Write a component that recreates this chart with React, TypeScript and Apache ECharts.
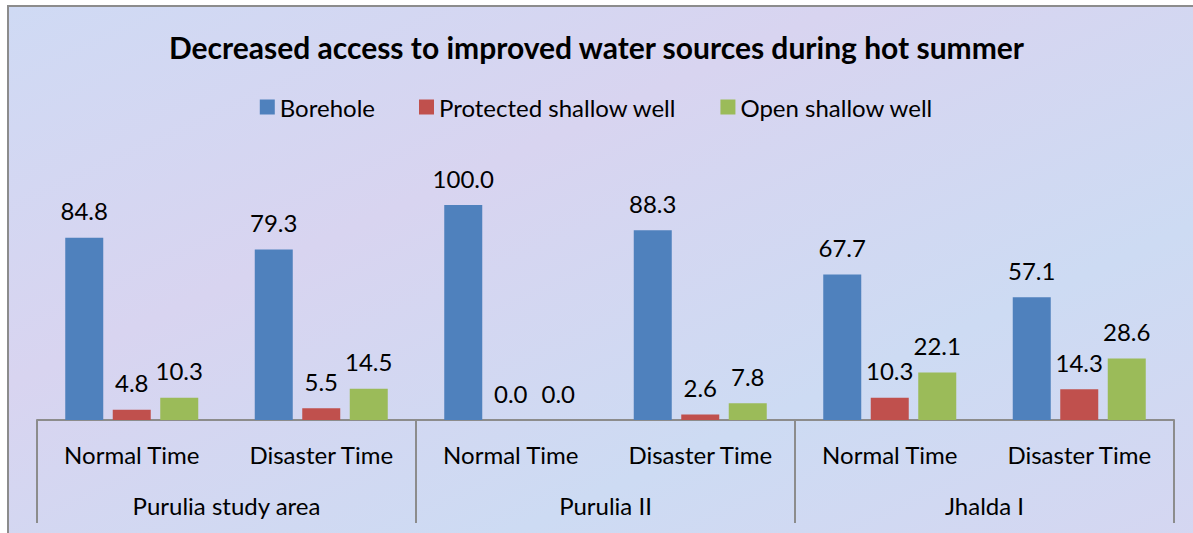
import React, { useEffect, useRef } from "react";
import * as echarts from "echarts";

const periods = ["Normal Time", "Disaster Time", "Normal Time", "Disaster Time", "Normal Time", "Disaster Time"];
const areas = ["Purulia study area", "Purulia II", "Jhalda I"];
const borehole = [84.8, 79.3, 100.0, 88.3, 67.7, 57.1];
const protectedWell = [4.8, 5.5, 0.0, 2.6, 10.3, 14.3];
const openWell = [10.3, 14.5, 0.0, 7.8, 22.1, 28.6];
const seriesNames = ["Borehole", "Protected shallow well", "Open shallow well"];
const colors = ["#4f81bd", "#c0504d", "#9bbb59"];

const FONT = "Lato";

export default function App() {
  const ref = useRef<HTMLDivElement>(null);
  useEffect(() => {
    if (!ref.current) return;
    const chart = echarts.init(ref.current, null, { renderer: "svg" });
    const label = {
      show: true,
      position: "top" as const,
      distance: 15,
      fontFamily: FONT,
      fontSize: 24,
      color: "#000",
      formatter: (p: any) => Number(p.value).toFixed(1),
    };
    const data = [borehole, protectedWell, openWell];
    chart.setOption({
      animation: false,
      backgroundColor: "transparent",
      graphic: [
        {
          type: "rect",
          shape: { x: 8, y: 6, width: 1192, height: 540 },
          style: {
            fill: new echarts.graphic.LinearGradient(0, 0, 1, 1, [
              { offset: 0, color: "#cfdaf4" },
              { offset: 0.35, color: "#d8d4f0" },
              { offset: 0.7, color: "#cddbf3" },
              { offset: 1, color: "#d5d6f1" },
            ]),
            stroke: "#8c8c8c",
            lineWidth: 2,
          },
          z: -10,
          silent: true,
        },
      ],
      title: {
        text: "Decreased access to improved water sources during hot summer",
        left: "center",
        top: 27,
        textStyle: { fontFamily: FONT, fontSize: 30, fontWeight: "bold", color: "#000" },
      },
      legend: {
        top: 90,
        left: "center",
        icon: "rect",
        itemWidth: 15,
        itemHeight: 15,
        itemGap: 44,
        textStyle: { fontFamily: FONT, fontSize: 24, color: "#000" },
        data: seriesNames,
      },
      grid: { left: 37, right: 19, top: 162, bottom: 113 },
      xAxis: [
        {
          type: "category",
          data: periods,
          axisLine: { show: true, lineStyle: { color: "#8c8c8c", width: 2 } },
          axisTick: { show: false },
          axisLabel: { margin: 22, fontFamily: FONT, fontSize: 24, color: "#000", interval: 0 },
        },
        {
          type: "category",
          data: areas,
          position: "bottom",
          axisLine: { show: false },
          axisTick: { show: true, length: 103, lineStyle: { color: "#8c8c8c", width: 2 } },
          axisLabel: { margin: 73, fontFamily: FONT, fontSize: 24, color: "#000", interval: 0 },
        },
      ],
      yAxis: { type: "value", min: 0, max: 120, show: false, splitLine: { show: false } },
      series: seriesNames.map((name, i) => ({
        name,
        type: "bar",
        xAxisIndex: 0,
        data: data[i],
        barWidth: 38,
        barGap: "25%",
        itemStyle: { color: colors[i] },
        label,
      })),
    });
    return () => chart.dispose();
  }, []);
  return (
    <div style={{ position: "fixed", left: 0, top: 0, width: 1193, height: 533, background: "#fff" }}>
      <div ref={ref} style={{ width: 1193, height: 533 }} />
    </div>
  );
}
